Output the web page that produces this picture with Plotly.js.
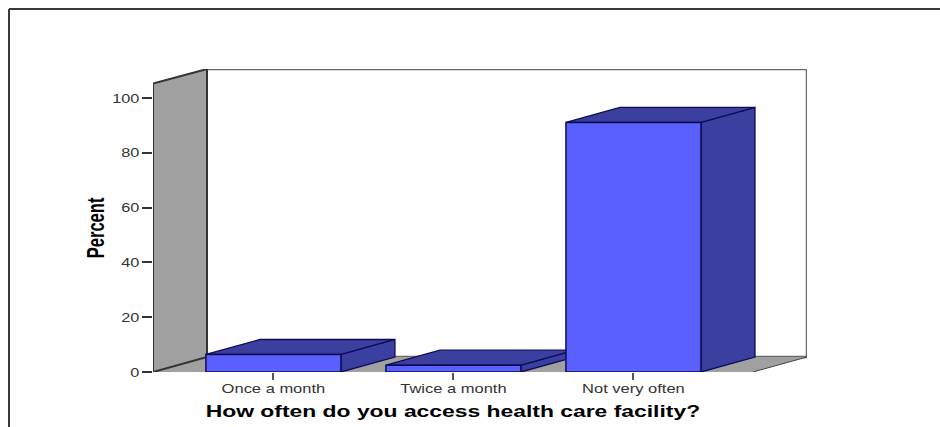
<!DOCTYPE html>
<html>
<head>
<meta charset="utf-8">
<script src="https://cdn.plot.ly/plotly-3.0.1.min.js"></script>
<style>
html,body{margin:0;padding:0;background:#fff;overflow:hidden}
#chart{width:940px;height:427px}
/* Widened title lettering */
.annotation[data-index="0"] text{transform:scaleX(1.43);transform-box:fill-box;transform-origin:center}
.annotation[data-index="1"] text{transform:scaleX(0.72);transform-box:fill-box;transform-origin:center}
</style>
</head>
<body>
<div id="chart"></div>
<script>
// Survey results: percentage of respondents per access frequency
const categories = ["Once a month", "Twice a month", "Not very often"];
const percents = [6.4, 2.5, 91.1];
const yTicks = [0, 20, 40, 60, 80, 100];
const xAxisTitle = "How often do you access health care facility?";
const yAxisTitle = "Percent";

// Oblique projection settings, in axis units
const barWidth = 0.75;
const depthX = 0.3;
const depthY = 5.47;
const xMin = -0.669, xMax = 2.964;
const yMax = 110.6;
const frontRight = 2.664;
const wallTop = 105.3;

const frontColor = "#5a60ff";
const sideColor = "#3b3fa0";
const edgeColor = "#0c0c55";
const wallColor = "#a0a0a0";

const traces = [];
function poly(xs, ys, fill, line, width) {
  traces.push({
    type: "scatter", mode: "lines", x: xs, y: ys, hoverinfo: "skip", cliponaxis: false,
    fill: fill ? "toself" : "none", fillcolor: fill || undefined,
    line: {color: line || "rgba(0,0,0,0)", width: width === undefined ? 1 : width},
    xaxis: "x", yaxis: "y"
  });
}

// Back wall outline
poly([xMin + depthX, xMax, xMax, xMin + depthX], [yMax, yMax, depthY, depthY], null, "#6a6a6a", 2.5);
// Floor and side wall
poly([xMin, frontRight, frontRight + depthX, xMin + depthX, xMin], [0, 0, depthY, depthY, 0], wallColor, null, 0);
poly([xMin, xMin + depthX, xMin + depthX, xMin, xMin], [0, depthY, yMax, wallTop, 0], wallColor, "#333333", 2);
poly([frontRight, frontRight + depthX], [0, depthY], null, "#444444", 1);

// Top and side faces of each bar
percents.forEach((v, i) => {
  const l = i - barWidth / 2, r = i + barWidth / 2;
  poly([r, r + depthX, r + depthX, r, r], [0, depthY, v + depthY, v, 0], sideColor, edgeColor, 1.3);
  poly([l, r, r + depthX, l + depthX, l], [v, v, v + depthY, v + depthY, v], sideColor, edgeColor, 1.3);
});

// Front faces sit on an overlaid axis pair so they stack above the faces behind them
traces.push({
  type: "bar", x: categories.map((_, i) => i), y: percents, width: barWidth, cliponaxis: false,
  marker: {color: frontColor, line: {color: edgeColor, width: 1.5}},
  xaxis: "x2", yaxis: "y2", hovertemplate: "%{y}%<extra></extra>"
});

const W = 940, H = 427, mL = 153, mR = 133, mT = 69, mB = 55;
const pw = W - mL - mR, ph = H - mT - mB;
const px = p => (p - mL) / pw;
const py = p => (H - mB - p) / ph;

const layout = {
  width: W, height: H,
  margin: {l: mL, r: mR, t: mT, b: mB},
  paper_bgcolor: "#fff", plot_bgcolor: "#fff",
  showlegend: false,
  xaxis: {
    range: [xMin, xMax], tickvals: categories.map((_, i) => i), ticktext: categories,
    ticks: "outside", ticklen: 7, tickwidth: 1.5, tickcolor: "#555", ticklabelstandoff: -3,
    showgrid: false, zeroline: false, showline: false,
    tickfont: {family: "Liberation Sans, Arial, sans-serif", size: 13, color: "#333"}
  },
  yaxis: {
    range: [0, yMax], tickvals: yTicks,
    ticks: "outside", ticklen: 10, tickwidth: 1.5, tickcolor: "#333",
    showgrid: false, zeroline: false, showline: false,
    tickfont: {family: "Liberation Sans, Arial, sans-serif", size: 13, color: "#333"}
  },
  xaxis2: {overlaying: "x", anchor: "y2", range: [xMin, xMax], visible: false},
  yaxis2: {overlaying: "y", anchor: "x2", range: [0, yMax], visible: false},
  annotations: [
    {text: xAxisTitle, xref: "x", yref: "paper", x: 1, y: py(411), yanchor: "middle", xanchor: "center", showarrow: false,
     font: {family: "Liberation Sans, Arial, sans-serif", size: 16, color: "#000", weight: 700}},
    {text: yAxisTitle, xref: "paper", yref: "y", x: px(96), y: 52.5, textangle: -90, xanchor: "center", yanchor: "middle", showarrow: false,
     font: {family: "Liberation Sans, Arial, sans-serif", size: 23, color: "#000", weight: 700}}
  ],
  shapes: [
    // Outer chart frame: top and left rules only
    {type: "line", xref: "paper", yref: "paper", x0: px(9), x1: px(940), y0: py(9), y1: py(9), line: {color: "#3a3a3a", width: 2}},
    {type: "line", xref: "paper", yref: "paper", x0: px(9), x1: px(9), y0: py(9), y1: py(427), line: {color: "#3a3a3a", width: 2}}
  ]
};

// Stretch tick labels horizontally around their own anchor point
function widen(selector, factor, anchorFraction) {
  document.querySelectorAll(selector).forEach(t => {
    const b = t.getBBox();
    const cx = b.x + b.width * anchorFraction;
    const base = t.getAttribute("transform") || "";
    t.setAttribute("transform", `${base} translate(${cx},0) scale(${factor},1) translate(${-cx},0)`);
  });
}

Plotly.newPlot("chart", traces, layout, {displayModeBar: false, responsive: false}).then(() => {
  widen(".xtick text", 1.27, 0.5);
  widen(".ytick text", 1.25, 1);
});
</script>
</body>
</html>
